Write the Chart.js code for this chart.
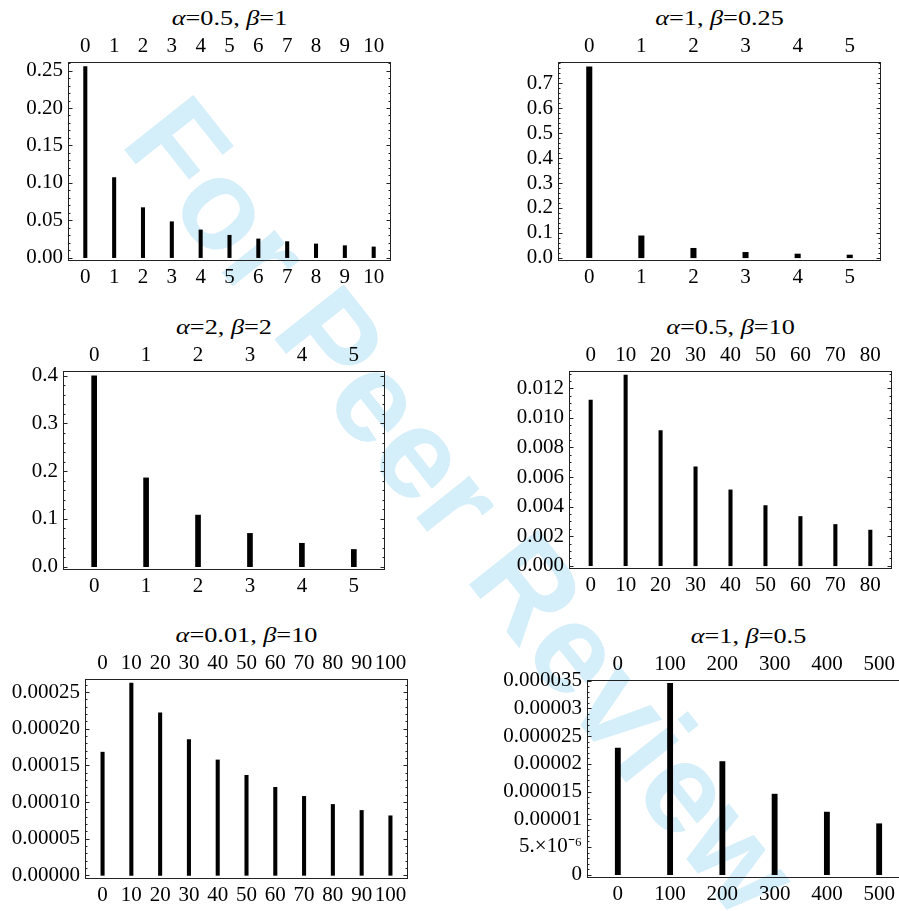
<!DOCTYPE html>
<html>
<head>
<meta charset="utf-8">
<script src="https://cdn.jsdelivr.net/npm/chart.js@4"></script>
<style>
  html, body { margin: 0; padding: 0; background: #fff; overflow: hidden; width: 899px; height: 911px; }
  #wm {
    position: absolute; left: 119px; top: 35px; z-index: 0;
    font: bold 128px "Liberation Sans", Arial, sans-serif; line-height: 128px;
    color: rgb(212, 238, 250); white-space: nowrap;
    transform-origin: 0 108px; transform: rotate(51.6deg);
  }
  .panel { position: absolute; z-index: 1; }
  .title {
    position: absolute; z-index: 1; text-align: center; white-space: nowrap;
    font: 21px "Liberation Serif", "Times New Roman", serif; line-height: 21px;
    transform: scaleX(1.25); transform-origin: 50% 50%;
  }
</style>
</head>
<body>
<div id="wm">For Peer Review</div>
<script>
// datos
const p1X = [0, 1, 2, 3, 4, 5, 6, 7, 8, 9, 10];
const p1Y = [0.2553, 0.107, 0.0668, 0.048, 0.037, 0.0299, 0.025, 0.0214, 0.0183, 0.016, 0.0143];
const p1XTicks = [0, 1, 2, 3, 4, 5, 6, 7, 8, 9, 10];
const p1YTicks = [0, 0.05, 0.10, 0.15, 0.20, 0.25];
const p1YLabels = ['0.00', '0.05', '0.10', '0.15', '0.20', '0.25'];

const p2X = [0, 1, 2, 3, 4, 5];
const p2Y = [0.767, 0.088, 0.038, 0.0217, 0.015, 0.011];
const p2XTicks = [0, 1, 2, 3, 4, 5];
const p2YTicks = [0, 0.1, 0.2, 0.3, 0.4, 0.5, 0.6, 0.7];
const p2YLabels = ['0.0', '0.1', '0.2', '0.3', '0.4', '0.5', '0.6', '0.7'];

const p3X = [0, 1, 2, 3, 4, 5];
const p3Y = [0.4, 0.186, 0.108, 0.0697, 0.049, 0.036];
const p3XTicks = [0, 1, 2, 3, 4, 5];
const p3YTicks = [0, 0.1, 0.2, 0.3, 0.4];
const p3YLabels = ['0.0', '0.1', '0.2', '0.3', '0.4'];

const p4X = [0, 10, 20, 30, 40, 50, 60, 70, 80];
const p4Y = [0.01121, 0.0129, 0.00914, 0.00669, 0.00513, 0.00407, 0.00333, 0.00279, 0.00241];
const p4XTicks = [0, 10, 20, 30, 40, 50, 60, 70, 80];
const p4YTicks = [0, 0.002, 0.004, 0.006, 0.008, 0.010, 0.012];
const p4YLabels = ['0.000', '0.002', '0.004', '0.006', '0.008', '0.010', '0.012'];

const p5X = [0, 10, 20, 30, 40, 50, 60, 70, 80, 90, 100];
const p5Y = [0.000168, 0.0002623, 0.0002217, 0.0001852, 0.0001574, 0.0001364, 0.00012, 0.0001077, 0.0000967, 0.0000885, 0.0000812];
const p5XTicks = [0, 10, 20, 30, 40, 50, 60, 70, 80, 90, 100];
const p5YTicks = [0, 0.00005, 0.0001, 0.00015, 0.0002, 0.00025];
const p5YLabels = ['0.00000', '0.00005', '0.00010', '0.00015', '0.00020', '0.00025'];

const p6X = [0, 100, 200, 300, 400, 500];
const p6Y = [0.00002282, 0.00003453, 0.00002041, 0.00001453, 0.00001129, 0.00000919];
const p6XTicks = [0, 100, 200, 300, 400, 500];
const p6YTicks = [0, 0.000005, 0.00001, 0.000015, 0.00002, 0.000025, 0.00003, 0.000035];
const p6YLabels = ['0', '5.\u00d710\u207b\u2076', '0.00001', '0.000015', '0.00002', '0.000025', '0.00003', '0.000035'];

const serif = '"Liberation Serif", "Times New Roman", serif';

// marco, ticks menores por dentro a izquierda y derecha
const framePlugin = {
  id: 'frame',
  afterDraw(chart, args, opts) {
    const { ctx, chartArea: a } = chart;
    const y = chart.scales.y;
    ctx.save();
    ctx.strokeStyle = '#222';
    ctx.lineWidth = 1;
    const l = Math.round(a.left) + 0.5, r = Math.round(a.right) - 0.5;
    const t = Math.round(a.top) + 0.5, b = Math.round(a.bottom) - 0.5;
    ctx.strokeRect(l, t, r - l, b - t);
    const sub = (opts.ticks[1] - opts.ticks[0]) / opts.minor;
    ctx.beginPath();
    for (let k = Math.floor(y.min / sub); k <= Math.ceil(y.max / sub); k++) {
      const v = k * sub;
      if (v < y.min || v > y.max) continue;
      const len = k % opts.minor === 0 ? 4 : 2;
      const py = Math.round(y.getPixelForValue(v)) + 0.5;
      ctx.moveTo(l, py); ctx.lineTo(l + len, py);
      ctx.moveTo(r, py); ctx.lineTo(r - len, py);
    }
    ctx.stroke();
    ctx.restore();
  }
};

const panels = [
  { alpha: '0.5', beta: '1', xs: p1X, ys: p1Y, xTicks: p1XTicks, yTicks: p1YTicks, yLabels: p1YLabels,
    minor: 5, frame: [68, 62, 323, 199], left: 68, xMin: -0.6, xMax: 10.6, yMin: -0.0045, yMax: 0.2615, bar: 3.4 },
  { alpha: '1', beta: '0.25', xs: p2X, ys: p2Y, xTicks: p2XTicks, yTicks: p2YTicks, yLabels: p2YLabels,
    minor: 5, frame: [558, 62, 323, 199], left: 108, xMin: -0.6, xMax: 5.6, yMin: -0.013, yMax: 0.786, bar: 5.4 },
  { alpha: '2', beta: '2', xs: p3X, ys: p3Y, xTicks: p3XTicks, yTicks: p3YTicks, yLabels: p3YLabels,
    minor: 5, frame: [63, 371, 322, 199], left: 63, xMin: -0.6, xMax: 5.6, yMin: -0.007, yMax: 0.41, bar: 5 },
  { alpha: '0.5', beta: '10', xs: p4X, ys: p4Y, xTicks: p4XTicks, yTicks: p4YTicks, yLabels: p4YLabels,
    minor: 4, frame: [569, 371, 323, 198], left: 119, xMin: -6.2, xMax: 86.2, yMin: -0.00022, yMax: 0.01317, bar: 3.4 },
  { alpha: '0.01', beta: '10', xs: p5X, ys: p5Y, xTicks: p5XTicks, yTicks: p5YTicks, yLabels: p5YLabels,
    minor: 5, frame: [85, 679, 323, 200], left: 85, xMin: -6.1, xMax: 106.1, yMin: -0.000005, yMax: 0.0002678, bar: 3.4 },
  { alpha: '1', beta: '0.5', xs: p6X, ys: p6Y, xTicks: p6XTicks, yTicks: p6YTicks, yLabels: p6YLabels,
    minor: 5, frame: [587, 680, 323, 198], left: 137, xMin: -59, xMax: 559, yMin: -0.0000006, yMax: 0.00003512, bar: 5.2 }
];

function makePanel(p) {
  const [fx, fy, fw, fh] = p.frame;
  const L = p.left, T = 40, B = 40, R = 10;

  const title = document.createElement('div');
  title.className = 'title';
  title.style.left = fx + 'px';
  title.style.width = fw + 'px';
  title.style.top = (fy - 54) + 'px';
  title.innerHTML = '<i>\u03b1</i>=' + p.alpha + ', <i>\u03b2</i>=' + p.beta;
  document.body.appendChild(title);

  const canvas = document.createElement('canvas');
  canvas.className = 'panel';
  canvas.width = fw + L + R;
  canvas.height = fh + T + B;
  canvas.style.left = (fx - L) + 'px';
  canvas.style.top = (fy - T) + 'px';
  document.body.appendChild(canvas);

  const font = { family: serif, size: 21 };
  const xAxis = (pos) => ({
    type: 'linear', position: pos, min: p.xMin, max: p.xMax, offset: false,
    grid: { display: false, drawTicks: false, offset: false }, border: { display: false },
    ticks: { color: '#000', font, padding: pos === 'top' ? 3 : 4, maxRotation: 0, autoSkip: false,
      callback: v => String(v) },
    afterBuildTicks: s => { s.ticks = p.xTicks.map(v => ({ value: v })); },
    afterFit: s => { s.height = pos === 'top' ? T : B; }
  });

  new Chart(canvas, {
    type: 'bar',
    data: {
      datasets: [{
        data: p.xs.map((x, i) => ({ x: x, y: p.ys[i] })),
        xAxisID: 'x', yAxisID: 'y',
        backgroundColor: '#000', borderWidth: 0, barThickness: p.bar
      }]
    },
    options: {
      responsive: false,
      animation: false,
      layout: { padding: { right: R } },
      plugins: { legend: { display: false }, tooltip: { enabled: false },
        frame: { ticks: p.yTicks, minor: p.minor } },
      scales: {
        x: xAxis('bottom'),
        x2: xAxis('top'),
        y: {
          type: 'linear', min: p.yMin, max: p.yMax,
          grid: { display: false, drawTicks: false }, border: { display: false },
          ticks: { color: '#000', font, padding: 5, autoSkip: false,
            callback: (v, i) => p.yLabels[i] },
          afterBuildTicks: s => { s.ticks = p.yTicks.map(v => ({ value: v })); },
          afterFit: s => { s.width = L; }
        }
      }
    },
    plugins: [framePlugin]
  });
}

panels.forEach(makePanel);
</script>
</body>
</html>
